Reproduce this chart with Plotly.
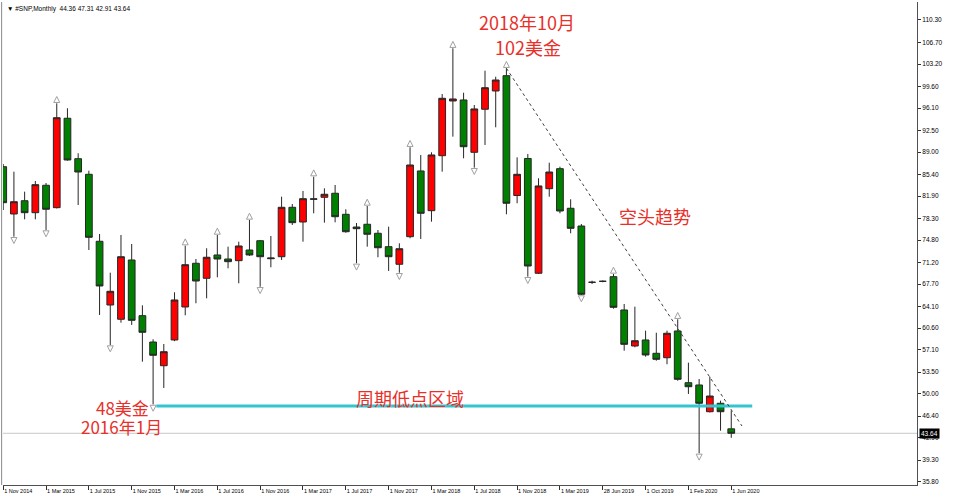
import plotly.graph_objects as go

# ---- data (monthly bars, Nov 2014 .. Jun 2020, one extra bar dated 28 Jun 2019) ----
opens = [86.64, 79.01, 81.15, 79.22, 83.64, 80.03, 94.45, 87.93, 85.41, 74.61,
         64.33, 62.03, 71.59, 62.61, 58.36, 54.54, 58.69, 64.01, 71.06, 68.64,
         72.40, 71.75, 71.48, 73.20, 74.70, 71.80, 72.12, 80.09, 77.72, 81.45,
         81.70, 82.35, 78.96, 76.91, 77.35, 75.90, 73.74, 70.90, 75.35, 85.95,
         79.54, 88.41, 97.24, 97.40, 88.96, 95.90, 98.85, 101.32, 81.99, 87.96,
         69.45, 83.09, 86.32, 79.93, 77.07, 68.00, 68.15, 68.90, 63.53, 57.72,
         58.69, 56.54, 55.83, 60.14, 51.80, 51.43, 47.12, 48.48, 44.36]
highs = [87.07, 85.83, 82.61, 84.33, 84.01, 96.86, 96.06, 88.80, 85.99, 75.78,
         69.54, 75.62, 74.17, 64.28, 58.80, 58.04, 66.38, 73.90, 71.75, 73.48,
         75.62, 73.74, 74.54, 78.04, 74.82, 75.46, 81.80, 80.62, 82.72, 85.03,
         83.15, 83.69, 79.77, 77.56, 80.30, 76.43, 76.96, 74.28, 89.77, 88.53,
         88.96, 98.36, 105.74, 98.57, 96.59, 102.12, 101.15, 102.51, 88.15, 88.69,
         84.77, 87.28, 86.64, 81.38, 77.40, 68.25, 68.30, 69.33, 64.49, 64.06,
         60.19, 59.86, 60.19, 62.03, 55.03, 52.40, 52.77, 48.90, 47.31]
lows = [79.65, 75.35, 78.15, 78.15, 76.43, 79.90, 87.61, 80.46, 73.20, 62.72,
        57.88, 61.48, 61.11, 55.19, 48.30, 50.95, 58.50, 62.67, 64.61, 65.41,
        68.80, 70.25, 67.83, 72.24, 67.28, 70.41, 71.59, 77.24, 74.54, 79.12,
        77.61, 77.67, 75.99, 71.06, 73.74, 72.03, 69.82, 69.54, 75.09, 74.98,
        77.77, 85.83, 91.48, 87.99, 86.48, 90.14, 92.99, 78.96, 80.74, 68.90,
        69.33, 81.80, 79.12, 75.90, 65.95, 67.72, 68.00, 63.74, 56.96, 57.51,
        56.00, 55.35, 54.77, 52.12, 49.98, 40.41, 47.00, 44.06, 42.91]
closes = [80.83, 80.99, 79.22, 83.74, 79.77, 94.54, 87.72, 85.78, 75.25, 67.40,
          66.54, 72.12, 61.86, 59.93, 56.22, 56.80, 65.14, 70.83, 68.20, 72.03,
          71.75, 71.32, 73.85, 72.40, 72.12, 71.90, 80.09, 77.61, 81.48, 81.40,
          82.19, 78.57, 76.15, 76.64, 75.74, 73.57, 72.12, 73.41, 86.91, 79.12,
          88.53, 97.67, 97.56, 89.86, 95.95, 99.38, 100.62, 80.74, 85.41, 70.62,
          83.53, 85.78, 79.49, 76.70, 66.06, 67.99, 68.15, 63.96, 57.99, 58.57,
          56.27, 55.57, 59.77, 52.35, 51.15, 48.48, 49.65, 47.12, 43.64]

tick_labels = ["1 Nov 2014", "1 Mar 2015", "1 Jul 2015", "1 Nov 2015", "1 Mar 2016",
               "1 Jul 2016", "1 Nov 2016", "1 Mar 2017", "1 Jul 2017", "1 Nov 2017",
               "1 Mar 2018", "1 Jul 2018", "1 Nov 2018", "1 Mar 2019", "28 Jun 2019",
               "1 Oct 2019", "1 Feb 2020", "1 Jun 2020"]
price_ticks = [110.30, 106.70, 103.20, 99.60, 96.10, 92.50, 89.00, 85.40, 81.90, 78.30,
               74.80, 71.20, 67.70, 64.10, 60.60, 57.10, 53.50, 50.00, 46.40, 42.90,
               39.30, 35.80]

up_fractals = [5, 17, 20, 23, 29, 34, 38, 42, 47, 57, 63]
down_fractals = [1, 4, 10, 14, 24, 33, 37, 44, 49, 54, 65]

support_level = 48.04
trend_start = (47, 102.51)
trend_end = (69.0, 44.82)
last_price = closes[-1]

idx = list(range(len(opens)))
tick_idx = idx[::4]

RED_TXT = "#e8302a"
CJK = "Noto Sans CJK SC"

fig = go.Figure()
fig.add_trace(go.Candlestick(
    x=idx, open=opens, high=highs, low=lows, close=closes,
    increasing=dict(fillcolor="#ff0000", line=dict(color="#262626", width=1)),
    decreasing=dict(fillcolor="#008000", line=dict(color="#262626", width=1)),
    whiskerwidth=0, hoverinfo="skip", showlegend=False))

fig.add_trace(go.Scatter(
    x=up_fractals, y=[highs[i] + 1.1 for i in up_fractals], mode="markers",
    marker=dict(symbol="arrow-up-open", size=6, color="#a0a0a0", line=dict(width=1, color="#a0a0a0")),
    hoverinfo="skip", showlegend=False))
fig.add_trace(go.Scatter(
    x=down_fractals, y=[lows[i] - 1.1 for i in down_fractals], mode="markers",
    marker=dict(symbol="arrow-down-open", size=6, color="#a0a0a0", line=dict(width=1, color="#a0a0a0")),
    hoverinfo="skip", showlegend=False))

shapes = [
    # bid line
    dict(type="line", xref="paper", x0=0, x1=1, yref="y", y0=last_price, y1=last_price,
         line=dict(color="#c8c8c8", width=1), layer="below"),
    # support zone line
    dict(type="line", xref="x", x0=14.3, x1=69.96, yref="y", y0=support_level, y1=support_level,
         line=dict(color="#33c6d0", width=3)),
    # bearish trend line
    dict(type="line", xref="x", x0=trend_start[0], y0=trend_start[1], x1=trend_end[0], y1=trend_end[1],
         yref="y", line=dict(color="#404040", width=1, dash="dot")),
    # left window border
    dict(type="line", xref="paper", x0=-0.0015, x1=-0.0015, yref="paper", y0=0, y1=1,
         line=dict(color="#8a8a8a", width=1)),
]

annotations = [
    dict(text="2018年10月", x=48.94, y=109.97, xref="x", yref="y", showarrow=False,
         font=dict(family=CJK, size=18, color=RED_TXT)),
    dict(text="102美金", x=49.04, y=105.94, xref="x", yref="y", showarrow=False,
         font=dict(family=CJK, size=18, color=RED_TXT)),
    dict(text="空头趋势", x=60.9, y=78.68, xref="x", yref="y", showarrow=False,
         font=dict(family=CJK, size=18, color=RED_TXT)),
    dict(text="周期低点区域", x=38.0, y=49.33, xref="x", yref="y", showarrow=False,
         font=dict(family=CJK, size=18, color=RED_TXT)),
    dict(text="48美金", x=11.12, y=47.85, xref="x", yref="y", showarrow=False,
         font=dict(family=CJK, size=17, color=RED_TXT)),
    dict(text="2016年1月", x=11.02, y=44.72, xref="x", yref="y", showarrow=False,
         font=dict(family=CJK, size=17, color=RED_TXT)),
    dict(text="▼ #SNP,Monthly  %.2f %.2f %.2f %.2f" % (opens[-1], highs[-1], lows[-1], closes[-1]),
         x=0.002, y=1, xref="paper", yref="paper", xanchor="left", yanchor="top", yshift=-1,
         showarrow=False, font=dict(family="Liberation Sans", size=6.5, color="#000000")),
    dict(text="%.2f" % last_price, x=1, y=last_price, xref="paper", yref="y", xanchor="left",
         xshift=2, showarrow=False, bgcolor="#000000", borderpad=1,
         font=dict(family="Liberation Sans", size=6.5, color="#ffffff")),
]

fig.update_layout(
    width=963, height=500,
    margin=dict(l=3, r=46, t=2, b=15),
    paper_bgcolor="#ffffff", plot_bgcolor="#ffffff",
    boxgap=0.1, boxgroupgap=0.3,
    shapes=shapes, annotations=annotations, showlegend=False,
    xaxis=dict(range=[-0.02, 85.35], showgrid=False, zeroline=False, rangeslider=dict(visible=False),
               tickmode="array", tickvals=tick_idx, ticktext=tick_labels,
               ticks="outside", ticklen=4, tickcolor="#303030", ticklabelposition="outside right",
               showline=True, linecolor="#505050", linewidth=1,
               tickfont=dict(family="Liberation Sans", size=5.5, color="#000000")),
    yaxis=dict(range=[35.3, 113.2], side="right", showgrid=False, zeroline=False,
               tickmode="array", tickvals=price_ticks, ticktext=["%.2f" % v for v in price_ticks],
               ticks="outside", ticklen=3, tickcolor="#303030",
               showline=True, linecolor="#505050", linewidth=1,
               tickfont=dict(family="Liberation Sans", size=6.5, color="#000000")),
)

fig.write_html("out.html", config={"displayModeBar": False},
               post_script="document.body.style.margin='0px';document.body.style.overflow='hidden';")
